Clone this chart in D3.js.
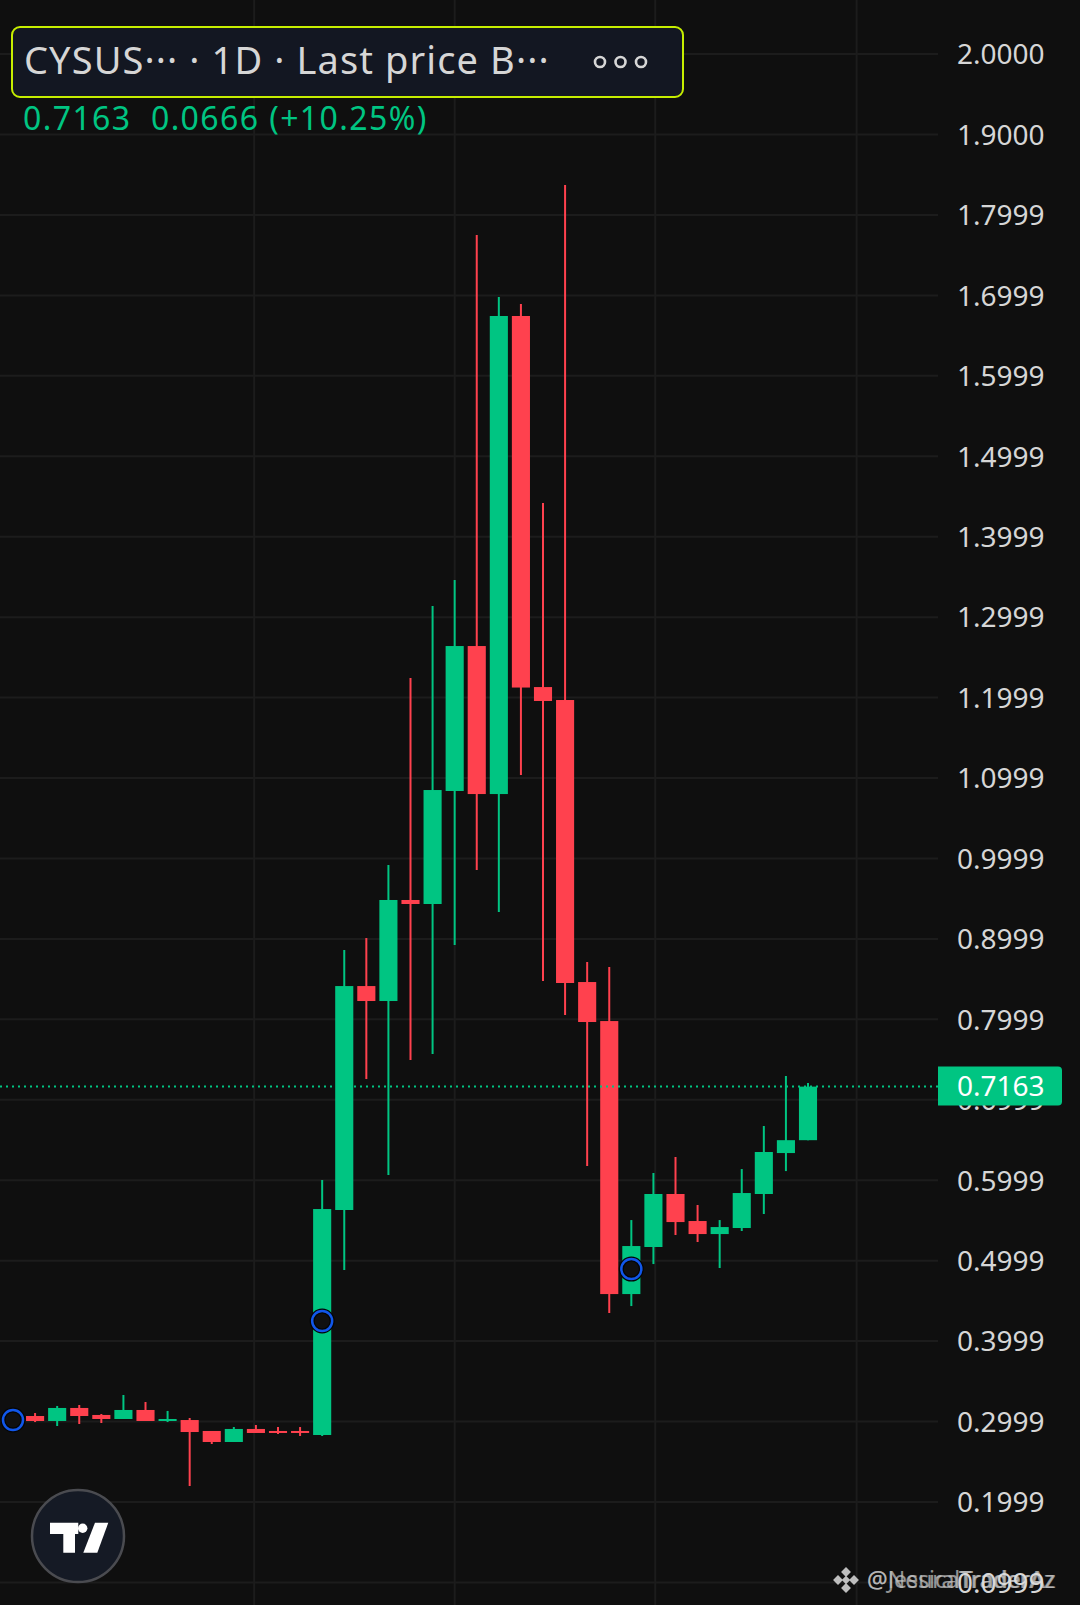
<!DOCTYPE html>
<html>
<head>
<meta charset="utf-8">
<script src="https://cdn.jsdelivr.net/npm/d3@7"></script>
<style>
  html, body { margin: 0; padding: 0; background: #0f0f0f; }
  svg { display: block; }
  text { font-family: "Noto Sans", "Open Sans", sans-serif; }
</style>
</head>
<body>
<svg id="chart"></svg>
<script>
// daily candles, index 0 = first visible bar
const opens  = [0.3068, 0.3006, 0.3168, 0.3081, 0.3031, 0.3143, 0.3006, 0.3018, 0.2882, 0.2745, 0.2907, 0.2882, 0.2882, 0.2832, 0.5629, 0.8413, 0.8227, 0.9483, 0.9433, 1.0838, 1.2640, 1.0800, 1.6743, 1.2130, 1.1969, 0.8463, 0.7978, 0.4584, 0.5169, 0.5828, 0.5492, 0.5330, 0.5405, 0.5828, 0.6337, 0.6497];
const highs  = [0.3105, 0.3193, 0.3205, 0.3093, 0.3329, 0.3242, 0.3131, 0.3043, 0.2882, 0.2931, 0.2956, 0.2931, 0.2931, 0.6002, 0.8861, 0.9010, 0.9918, 1.2242, 1.3138, 1.3461, 1.7750, 1.6979, 1.6892, 1.4418, 1.8371, 0.8712, 0.8650, 0.5504, 0.6089, 0.6288, 0.5691, 0.5504, 0.6138, 0.6673, 0.7295, 0.7207];
const lows   = [0.2993, 0.2944, 0.2969, 0.2981, 0.3031, 0.3006, 0.2993, 0.2198, 0.2720, 0.2745, 0.2857, 0.2844, 0.2820, 0.2820, 0.4883, 0.7257, 0.6064, 0.7493, 0.7568, 0.8923, 0.9856, 0.9333, 1.1037, 0.8476, 0.8053, 0.6176, 0.4348, 0.4435, 0.4957, 0.5318, 0.5231, 0.4908, 0.5368, 0.5579, 0.6113, 0.6497];
const closes = [0.3006, 0.3168, 0.3068, 0.3031, 0.3143, 0.3006, 0.3031, 0.2869, 0.2745, 0.2907, 0.2857, 0.2857, 0.2857, 0.5641, 0.8413, 0.8227, 0.9483, 0.9433, 1.0850, 1.2640, 1.0800, 1.6743, 1.2124, 1.1957, 0.8451, 0.7966, 0.4584, 0.5181, 0.5828, 0.5479, 0.5330, 0.5417, 0.5840, 0.6350, 0.6497, 0.7163];

// signal markers (bar index, price)
const markerIdx   = [-1, 13, 27];
const markerPrice = [0.3018, 0.4249, 0.4895];

// price scale labels
const tickLabels = ["2.0000", "1.9000", "1.7999", "1.6999", "1.5999", "1.4999", "1.3999", "1.2999", "1.1999", "1.0999",
                    "0.9999", "0.8999", "0.7999", "0.6999", "0.5999", "0.4999", "0.3999", "0.2999", "0.1999", "0.0999"];
// vertical time grid, in bar index units
const timeGrid = [9.92, 19.0, 28.08, 37.2];

const lastPrice = 0.7163;
const headerTitle = "CYSUS\u00b7\u00b7\u00b7 \u00b7 1D \u00b7 Last price B\u00b7\u00b7\u00b7";
const headerValues = "0.7163  0.0666 (+10.25%)";

const width = 1080, height = 1605;
const upColor = "#00c582", downColor = "#ff414e";
const gridColor = "#1c1c1c", textColor = "#d6d6d6";
const plotRight = 938;

const svg = d3.select("#chart").attr("width", width).attr("height", height);
svg.append("rect").attr("width", width).attr("height", height).attr("fill", "#0f0f0f");

const bars = opens.map((o, i) => ({ i, o, h: highs[i], l: lows[i], c: closes[i] }));

const x = d3.scaleLinear().domain([-1, 35]).range([13, 808]);
const y = d3.scaleLinear().domain([0, 2]).range([54 + 2 * 804.4, 54]);
const bodyW = (x(1) - x(0)) * 0.82;

// grid
const tickVals = tickLabels.map(Number);
svg.append("g").selectAll("line").data(tickVals).enter().append("line")
    .attr("x1", 0).attr("x2", plotRight)
    .attr("y1", d => y(d)).attr("y2", d => y(d))
    .attr("stroke", gridColor).attr("stroke-width", 2);
svg.append("g").selectAll("line").data(timeGrid).enter().append("line")
    .attr("x1", d => x(d)).attr("x2", d => x(d))
    .attr("y1", 0).attr("y2", height)
    .attr("stroke", gridColor).attr("stroke-width", 2);

// candles
const candles = svg.append("g").selectAll("g").data(bars).enter().append("g");
candles.append("line")
    .attr("x1", d => x(d.i)).attr("x2", d => x(d.i))
    .attr("y1", d => y(d.h)).attr("y2", d => y(d.l))
    .attr("stroke", d => d.c >= d.o ? upColor : downColor)
    .attr("stroke-width", 2);
candles.append("rect")
    .attr("x", d => x(d.i) - bodyW / 2)
    .attr("width", bodyW)
    .attr("y", d => y(Math.max(d.o, d.c)))
    .attr("height", d => Math.max(2, Math.abs(y(d.o) - y(d.c))))
    .attr("fill", d => d.c >= d.o ? upColor : downColor);

// last price dotted line
svg.append("line")
    .attr("x1", 0).attr("x2", plotRight)
    .attr("y1", y(lastPrice)).attr("y2", y(lastPrice))
    .attr("stroke", upColor).attr("stroke-width", 2)
    .attr("stroke-dasharray", "2 4");

// markers
const markers = svg.append("g").selectAll("g").data(markerIdx).enter().append("g")
    .attr("transform", (d, k) => `translate(${x(d)},${y(markerPrice[k])})`);
markers.append("circle").attr("r", 10).attr("fill", "#101010").attr("stroke", "#050505").attr("stroke-width", 5);
markers.append("circle").attr("r", 10).attr("fill", "none").attr("stroke", "#1157ea").attr("stroke-width", 2.5);

// price axis
const axis = d3.axisRight(y).tickValues(tickVals).tickSize(0).tickPadding(0)
    .tickFormat((d, k) => tickLabels[k]);
const axisG = svg.append("g").attr("transform", "translate(957,0)").call(axis);
axisG.select(".domain").remove();
axisG.selectAll("text")
    .attr("fill", textColor)
    .style("font-size", "28px")
    .attr("dy", "0.35em")
    .attr("text-anchor", "start");

// last price label
const ly = y(lastPrice);
svg.append("path")
    .attr("d", `M${plotRight},${ly - 20} H1058 Q1062,${ly - 20} 1062,${ly - 16} V${ly + 15} Q1062,${ly + 19} 1058,${ly + 19} H${plotRight} Z`)
    .attr("fill", upColor);
svg.append("text")
    .attr("x", 957).attr("y", ly).attr("dy", "0.35em")
    .attr("fill", "#ffffff").style("font-size", "28px")
    .text(d3.format(".4f")(lastPrice));

// header legend
svg.append("rect")
    .attr("x", 12).attr("y", 27).attr("width", 671).attr("height", 70).attr("rx", 8)
    .attr("fill", "#131722").attr("stroke", "#c6ee00").attr("stroke-width", 2);
svg.append("text")
    .attr("x", 24).attr("y", 74)
    .attr("fill", textColor).style("font-size", "38px").style("letter-spacing", "1.1px")
    .text(headerTitle);
svg.append("g").selectAll("circle").data([0, 1, 2]).enter().append("circle")
    .attr("cx", d => 600 + d * 20.5).attr("cy", 62).attr("r", 5)
    .attr("fill", "none").attr("stroke", textColor).attr("stroke-width", 2.6);
svg.append("text")
    .attr("x", 23).attr("y", 130)
    .attr("fill", upColor).style("font-size", "32px").style("letter-spacing", "1.4px")
    .style("white-space", "pre").attr("xml:space", "preserve")
    .text(headerValues);

// tradingview logo
const logo = svg.append("g").attr("transform", "translate(78,1536)");
logo.append("circle").attr("r", 46).attr("fill", "#151a25").attr("stroke", "#4a4b50").attr("stroke-width", 2.5);
logo.append("path").attr("fill", "#ffffff")
    .attr("d", "M-28,-13.3 H0.3 V-2 H-3 V16.7 H-14.7 V-2 H-28 Z");
logo.append("circle").attr("cx", 4.7).attr("cy", -7.7).attr("r", 4.7).attr("fill", "#ffffff");
logo.append("path").attr("fill", "#ffffff")
    .attr("d", "M17,-13.3 H30.3 L19.3,16.7 H5.3 Z");

// watermark
const wm = svg.append("g").attr("transform", "translate(846,1580)").attr("opacity", 0.85);
[[0, -8], [-8, 0], [8, 0], [0, 8]].forEach(p => {
    wm.append("rect").attr("x", p[0] - 3.5).attr("y", p[1] - 3.5).attr("width", 7).attr("height", 7)
        .attr("transform", `rotate(45 ${p[0]} ${p[1]})`).attr("fill", "#dcdcdc");
});
wm.append("rect").attr("x", -3).attr("y", -3).attr("width", 6).attr("height", 6)
    .attr("transform", "rotate(45)").attr("fill", "#dcdcdc");
wm.append("text").attr("x", 21).attr("y", 8).attr("fill", "#e0e0e0").attr("opacity", 0.75)
    .style("font-size", "23px").text("@JessicaTraderAz");
wm.append("text").attr("x", 21).attr("y", 8).attr("fill", "#e0e0e0").attr("opacity", 0.75)
    .style("font-size", "23px").text("@NeuralTraderAz");
</script>
</body>
</html>
